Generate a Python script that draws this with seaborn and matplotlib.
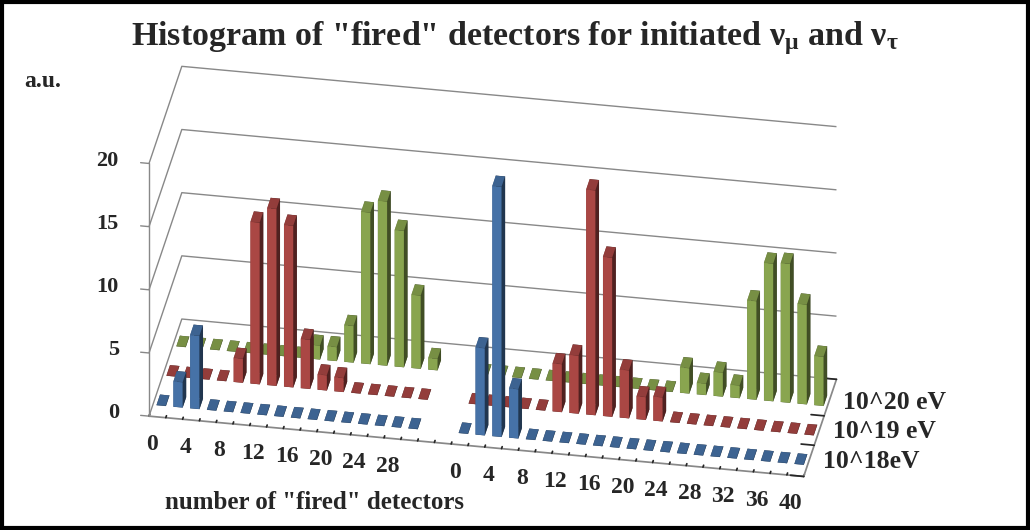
import numpy as np
import pandas as pd
import seaborn as sns
import matplotlib.pyplot as plt
from matplotlib.patches import Rectangle
from mpl_toolkits.mplot3d import proj3d

# values (a.u.), two runs of categories with a 2-slot gap
run1_cats = list(range(0, 32, 2))
run2_cats = list(range(0, 42, 2))
gap_slots = 2

e18_run1 = [0, 2.0, 5.8, 0, 0, 0, 0, 0, 0, 0, 0, 0, 0, 0, 0, 0]
e19_run1 = [0, 0, 0, 0, 1.9, 12.8, 14.0, 12.8, 3.9, 1.2, 1.1, 0, 0, 0, 0, 0]
e20_run1 = [0, 0, 0, 0, 0, 0, 0, 0, 1.1, 1.1, 2.9, 12.0, 13.0, 10.8, 5.8, 0.9]

e18_run2 = [0, 6.9, 19.8, 3.9, 0, 0, 0, 0, 0, 0, 0, 0, 0, 0, 0, 0, 0, 0, 0, 0, 0]
e19_run2 = [0, 0, 0, 0, 0, 3.8, 4.6, 17.8, 12.6, 3.8, 1.8, 1.9, 0, 0, 0, 0, 0, 0, 0, 0, 0]
e20_run2 = [0, 0, 0, 0, 0, 0, 0, 0, 0, 0, 0, 0, 2.0, 0.9, 1.9, 1.0, 7.8, 10.9, 11.0, 7.9, 3.9]

series_names = ["10^18eV", "10^19 eV", "10^20 eV"]
series_colors = ["#4F81BD", "#C0504D", "#9BBB59"]
z_ticks = [0, 5, 10, 15, 20]

sns.set_theme(style="white")
plt.rcParams['font.family'] = ['Liberation Serif', 'DejaVu Serif']
plt.rcParams['font.weight'] = 'bold'
plt.rcParams['mathtext.fontset'] = 'custom'
plt.rcParams['mathtext.rm'] = 'Liberation Serif:bold'
plt.rcParams['mathtext.it'] = 'Liberation Serif:bold'
plt.rcParams['mathtext.bf'] = 'Liberation Serif:bold'

# long table: slot index along the category axis, series row, value
rows = []
for k, (r1, r2) in enumerate([(e18_run1, e18_run2), (e19_run1, e19_run2), (e20_run1, e20_run2)]):
    for i, v in enumerate(r1):
        rows.append((i, k, v))
    for i, v in enumerate(r2):
        rows.append((len(run1_cats) + gap_slots + i, k, v))
df = pd.DataFrame(rows, columns=["slot", "row", "value"])

n_slots = len(run1_cats) + gap_slots + len(run2_cats)
tick_labels = []
for i in range(len(run1_cats)):
    tick_labels.append(str(run1_cats[i]) if i % 2 == 0 else "")
tick_labels += [""] * gap_slots
for i in range(len(run2_cats)):
    tick_labels.append(str(run2_cats[i]) if i % 2 == 0 else "")

fig = plt.figure(figsize=(10.3, 5.3), dpi=100)
ax = fig.add_axes([0.022, 0.0155, 0.90, 0.92], projection='3d')

bw, bd = 0.55, 0.35
palette = sns.color_palette(series_colors)
cols = [palette[r] for r in df["row"]]
bars = ax.bar3d(df["slot"] - bw / 2, df["row"] + 0.5 - bd / 2, np.zeros(len(df)),
                bw, bd, np.maximum(df["value"], 0.02), color=cols, shade=True,
                edgecolor=(0, 0, 0, 0.08), linewidth=0.3)
bars.set_clip_on(False)

x0, x1 = -0.5, n_slots - 0.5
y0, y1 = -0.06, 3.24
ax.set_xlim(x0, x1)
ax.set_ylim(y0, y1)
ax.set_zlim(0, 20)
ax.set_box_aspect((655, 186, 292), zoom=1.497)
ax.view_init(elev=31.5, azim=-80)
ax.set_proj_type('ortho')

# Excel style: tick marks between categories / rows, labels written separately
ax.set_xticks(np.arange(n_slots + 1) - 0.5)
ax.set_yticks([y0, 1, 2, y1])
ax.set_zticks(z_ticks)
for a in (ax.xaxis, ax.yaxis, ax.zaxis):
    a.set_tick_params(labelbottom=False, labeltop=False, labelleft=False, labelright=False)
    a.set_pane_color((1, 1, 1, 1))
    a.pane.set_edgecolor((1, 1, 1, 0))
    a._axinfo['tick']['color'] = '#888888'
ax.zaxis.line.set_linewidth(0)
ax.zaxis._axinfo['tick']['inward_factor'] = 0
ax.zaxis._axinfo['tick']['outward_factor'] = 0
for a in (ax.xaxis, ax.yaxis):
    a._axinfo['tick']['inward_factor'] = 0
    a._axinfo['tick']['outward_factor'] = 0.25
    a.line.set_color('#888888')

ax.grid(True)
ax.xaxis._axinfo['grid'].update({'linewidth': 0, 'color': (1, 1, 1, 0)})
ax.yaxis._axinfo['grid'].update({'linewidth': 0, 'color': (1, 1, 1, 0)})
ax.zaxis._axinfo['grid'].update({'linewidth': 1.0, 'color': '#888888'})

# value axis on the front-left edge, as in the reference
zl, = ax.plot([x0, x0], [y0, y0], [0, 20], color='#888888', lw=1.0)
zl.set_clip_on(False)
for v in z_ticks:
    tl, = ax.plot([x0 - 0.5, x0], [y0, y0], [v, v], color='#888888', lw=1.0)
    tl.set_clip_on(False)

# draw once so the 3D projection is fixed, then place labels as plain 2D text
fig.canvas.draw()


def label_at(x, y, z, s, **kw):
    xp, yp, _ = proj3d.proj_transform(x, y, z, ax.M)
    ax.text2D(xp, yp, s, transform=ax.transData, fontweight='bold', **kw)


for v in z_ticks:
    label_at(x0 - 1.8, y0, v, str(v), ha='right', va='center', fontsize=16)

for i, lab in enumerate(tick_labels):
    if lab:
        label_at(i + 0.25, y0 - 0.92, 0, lab, ha='center', va='center', fontsize=17)

for k, name in enumerate(series_names):
    label_at(x1 + 0.8, k + 0.5, 0, name, ha='left', va='center', fontsize=18.5)

fig.text(0.5, 0.928, r'Histogram of "fired" detectors for initiated ν$_{\mu}$ and ν$_{\tau}$',
         ha='center', va='center', fontsize=24.5, fontweight='bold')
fig.text(0.024, 0.835, "a.u.", fontsize=17, fontweight='bold')
fig.text(0.16, 0.04, 'number of "fired" detectors', fontsize=18, fontweight='bold')

fig.add_artist(Rectangle((0.002, 0.003), 0.996, 0.994, transform=fig.transFigure,
                         fill=False, edgecolor='black', linewidth=3))

fig.savefig("out.png", dpi=100)
